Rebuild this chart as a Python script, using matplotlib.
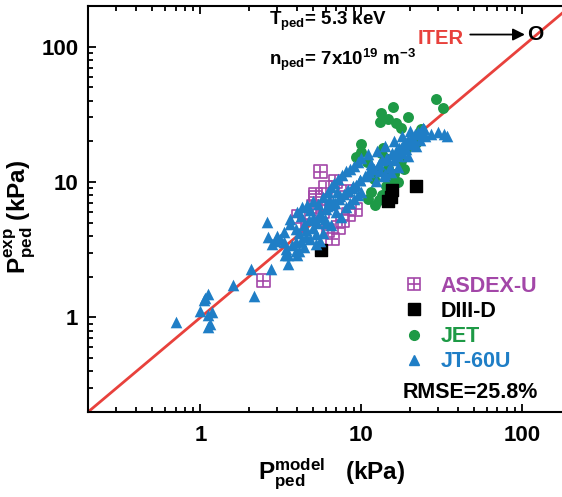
import matplotlib
matplotlib.use('Agg')
import matplotlib.pyplot as plt
from matplotlib.legend_handler import HandlerTuple
from matplotlib.lines import Line2D

plt.rcParams['font.family'] = ['Liberation Sans', 'DejaVu Sans']
plt.rcParams['font.weight'] = 'bold'
plt.rcParams['mathtext.fontset'] = 'custom'
plt.rcParams['mathtext.rm'] = 'Liberation Sans:bold'
plt.rcParams['mathtext.it'] = 'Liberation Sans:bold'
plt.rcParams['mathtext.bf'] = 'Liberation Sans:bold'

# JT-60U (blue triangles)
jt_x = [0.70, 1.00, 1.07, 1.12, 1.05, 1.12, 1.15, 1.12, 1.18, 1.60, 2.14, 2.07, 2.76,
        2.60, 2.64, 2.90, 2.80, 3.10, 3.30, 3.00, 3.40, 3.50, 3.70, 3.90, 4.20, 4.50,
        4.80, 5.20, 5.50, 3.60, 3.90, 4.10, 4.40, 4.70, 5.00, 5.30, 5.60, 4.00, 4.30,
        4.60, 5.00, 5.40, 5.80, 6.20, 6.50, 6.80, 7.20, 7.60, 8.00, 8.50, 9.00, 6.00,
        6.40, 6.90, 7.30, 7.80, 8.20, 8.80, 9.30, 9.80, 10.5, 11.2, 12.0, 12.8, 13.5,
        14.5, 15.5, 16.5, 17.5, 18.5, 19.5, 20.5, 21.5, 22.5, 23.5, 24.5, 20.0, 18.0,
        16.0, 14.0, 12.5, 11.0, 10.0, 9.5, 11.5, 13.0, 14.0, 15.0, 16.0, 17.0, 18.0,
        19.0, 21.0, 23.0, 25.0, 27.0, 30.0, 32.5, 34.0, 7.0, 7.5, 8.0, 8.5, 9.0, 9.5,
        10.0, 6.0, 6.5, 5.8, 4.4, 4.0, 3.37, 3.5, 4.1, 3.9, 4.5, 5.0, 5.5, 6.1, 6.7,
        7.4, 8.1, 8.9, 9.8, 10.8, 11.8, 12.9, 14.2, 15.6, 17.1, 18.8, 20.6, 22.6, 24.0,
        3.3, 3.6, 4.2, 4.8, 5.2, 5.9, 6.3, 7.1, 12.3, 13.8, 15.2, 16.8, 19.5, 21.8]
jt_y = [0.92, 1.12, 1.40, 1.48, 1.35, 1.05, 0.89, 0.85, 1.10, 1.75, 1.43, 2.26, 2.26,
        5.10, 3.90, 3.65, 3.50, 3.80, 3.60, 4.00, 3.20, 2.90, 3.40, 3.60, 3.70, 3.90,
        3.80, 3.50, 3.70, 5.30, 4.50, 4.20, 4.80, 5.20, 4.60, 5.00, 5.50, 6.00, 6.50,
        6.80, 7.20, 6.90, 7.80, 8.50, 9.20, 9.80, 10.5, 11.2, 12.0, 12.5, 13.2, 6.30,
        6.80, 7.00, 7.50, 8.20, 8.80, 9.00, 9.50, 10.3, 11.0, 11.8, 12.5, 13.5, 14.5,
        15.0, 16.0, 17.0, 18.0, 19.5, 20.5, 21.5, 22.5, 23.5, 24.0, 24.5, 24.0, 22.0,
        20.0, 18.5, 17.0, 16.0, 15.0, 14.0, 13.5, 12.0, 11.5, 13.0, 14.5, 15.5, 16.5,
        17.5, 19.0, 20.5, 22.0, 22.5, 23.5, 22.5, 22.0, 6.00, 5.50, 6.50, 7.00, 7.50,
        8.00, 8.50, 5.00, 4.80, 4.20, 3.30, 2.90, 2.90, 2.50, 3.07, 3.10, 4.40, 5.40,
        5.90, 6.60, 7.10, 7.90, 8.60, 9.40, 10.4, 11.3, 12.4, 13.6, 14.9, 16.3, 17.9,
        19.5, 21.3, 23.2, 25.0, 4.30, 4.90, 5.60, 6.20, 4.10, 5.30, 7.40, 8.40, 10.2,
        11.0, 11.8, 12.9, 15.6, 18.4]

# JET (green circles)
jet_x = [29.0, 32.0, 15.8, 13.3, 13.1, 14.7, 16.5, 19.5, 17.5, 9.9, 10.0, 9.2, 10.8,
         12.2, 12.8, 13.5, 14.3, 15.4, 16.9, 14.3, 14.7, 13.3, 14.0, 17.7, 13.7, 19.0,
         21.7, 23.5, 11.5, 12.0, 16.0, 18.5, 11.0, 12.5]
jet_y = [41.0, 35.0, 36.0, 32.6, 28.0, 29.0, 27.5, 30.0, 25.0, 19.0, 16.8, 15.4, 14.0,
         6.8, 7.4, 8.0, 9.3, 10.4, 10.0, 11.5, 12.8, 16.5, 15.0, 14.2, 18.0, 17.5,
         19.5, 24.5, 8.5, 10.5, 11.5, 12.5, 7.5, 12.0]

# DIII-D (black squares)
d3d_x = [5.6, 15.2, 15.4, 21.7, 14.7]
d3d_y = [3.15, 7.7, 8.8, 9.4, 7.2]

# ASDEX-U (purple boxed plus)
aug_x = [5.55, 6.9, 6.0, 5.2, 5.2, 9.2, 8.3, 7.2, 4.06, 2.46, 5.7, 6.5, 7.6, 6.2,
         6.6, 4.6, 5.0, 8.0]
aug_y = [11.9, 10.1, 9.1, 8.1, 7.7, 6.3, 5.75, 4.6, 5.6, 1.87, 6.1, 7.0, 5.2, 4.4,
         3.8, 4.8, 6.6, 8.6]

iter_x = 120
iter_y = 123

blue = '#1f7ec6'
green = '#1e9a46'
purple = '#a347a8'
red = '#e8413c'

fig = plt.figure(figsize=(5.62, 4.97), dpi=100)
ax = fig.add_axes([0.1566, 0.171, 0.859, 0.817])

ax.plot([0.2, 200], [0.2, 200], color=red, lw=2, zorder=1)

ax.scatter(aug_x, aug_y, marker='s', s=85, facecolors='none', edgecolors=purple, linewidths=1.2, zorder=2)
ax.scatter(aug_x, aug_y, marker='+', s=85, color=purple, linewidths=1.2, zorder=2)
ax.scatter(d3d_x, d3d_y, marker='s', s=75, color='black', zorder=3)
ax.scatter(jet_x, jet_y, marker='o', s=62, color=green, linewidths=0, zorder=2)
ax.scatter(jt_x, jt_y, marker='^', s=70, color=blue, linewidths=0, zorder=3)

ax.text(iter_x, iter_y, 'O', fontsize=15, fontweight='bold', ha='center', va='center', zorder=5)
ax.annotate('', xy=(iter_x * 0.9, iter_y), xytext=(iter_x * 0.38, iter_y),
            arrowprops=dict(arrowstyle='-|>', color='black', lw=1.3, mutation_scale=18))
ax.text(0.683, 0.921, 'ITER', transform=ax.transAxes, color=red, fontsize=14.5,
        fontweight='bold', va='center')

ax.set_xscale('log')
ax.set_yscale('log')
ax.set_xlim(0.2, 200)
ax.set_ylim(0.2, 200)
ax.set_xticks([1, 10, 100])
ax.set_xticklabels(['1', '10', '100'])
ax.set_yticks([1, 10, 100])
ax.set_yticklabels(['1', '10', '100'])

ax.tick_params(which='both', direction='in', top=True, right=True, width=1.3)
ax.tick_params(which='major', length=6, labelsize=16)
ax.tick_params(which='minor', length=3.5)
ax.tick_params(axis='x', which='major', pad=9)
ax.tick_params(axis='y', which='major', pad=7)
for sp in ax.spines.values():
    sp.set_linewidth(1.5)

ax.set_xlabel(r'$\mathrm{P_{ped}^{model}}$   (kPa)', fontsize=17.5, fontweight='bold')
ax.xaxis.set_label_coords(0.505, -0.108)
ax.set_ylabel(r'$\mathrm{P_{ped}^{exp}}$ (kPa)', fontsize=17.5, fontweight='bold')
ax.yaxis.set_label_coords(-0.105, 0.48)

ax.text(0.375, 0.963, r'$\mathrm{T_{ped}}$= 5.3 keV', transform=ax.transAxes,
        fontsize=13.5, va='center')
ax.text(0.375, 0.867, r'$\mathrm{n_{ped}}$= 7x10$^{\mathrm{19}}$ m$^{\mathrm{-3}}$',
        transform=ax.transAxes, fontsize=13.5, va='center')
ax.text(0.652, 0.049, 'RMSE=25.8%', transform=ax.transAxes, fontsize=15.5, va='center')

h_aug = (Line2D([], [], marker='s', ls='none', ms=8, mfc='none', mec=purple, mew=1.2),
         Line2D([], [], marker='+', ls='none', ms=8, color=purple, mew=1.2))
h_d3d = Line2D([], [], marker='s', ls='none', ms=8, color='black')
h_jet = Line2D([], [], marker='o', ls='none', ms=7, color=green)
h_jt = Line2D([], [], marker='^', ls='none', ms=7, color=blue)
ax.legend([h_aug, h_d3d, h_jet, h_jt], ['ASDEX-U', 'DIII-D', 'JET', 'JT-60U'],
          handler_map={tuple: HandlerTuple(ndivide=1)},
          loc='upper left', bbox_to_anchor=(0.652, 0.336), frameon=False,
          prop={'size': 15.5, 'weight': 'bold'}, handlelength=1.0, handletextpad=0.75,
          labelspacing=0.2, borderpad=0, borderaxespad=0,
          labelcolor=[purple, 'black', green, blue])

fig.savefig('out.png', dpi=100)
